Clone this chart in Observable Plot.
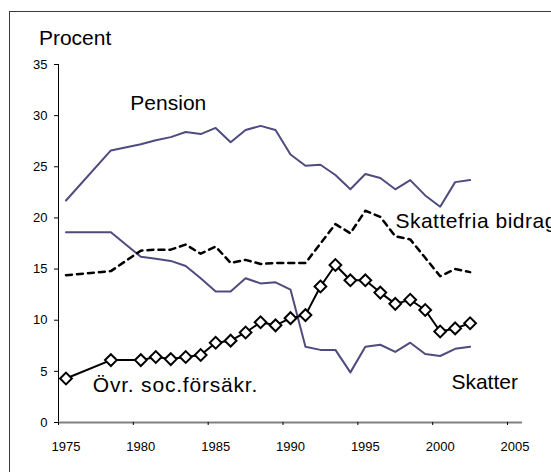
<!DOCTYPE html>
<html>
<head>
<meta charset="utf-8">
<script src="https://cdn.jsdelivr.net/npm/d3@7"></script>
<script src="https://cdn.jsdelivr.net/npm/@observablehq/plot@0.6"></script>
<style>
  html, body { margin: 0; padding: 0; background: #fff; overflow: hidden; }
  #wrap { position: relative; width: 551px; height: 472px; font-family: "Liberation Sans", Arial, sans-serif; }
  #border { position: absolute; left: 9px; top: 11px; width: 700px; height: 700px; border: 1px solid #3a3a3a; pointer-events: none; }
</style>
</head>
<body>
<div id="wrap"><div id="border"></div></div>
<script>
const years = [1975, 1978, 1980, 1981, 1982, 1983, 1984, 1985, 1986, 1987, 1988, 1989, 1990,
               1991, 1992, 1993, 1994, 1995, 1996, 1997, 1998, 1999, 2000, 2001, 2002];
const pension = [21.7, 26.6, 27.2, 27.6, 27.9, 28.4, 28.2, 28.8, 27.4, 28.6, 29.0, 28.6, 26.2,
                 25.1, 25.2, 24.2, 22.8, 24.3, 23.9, 22.8, 23.7, 22.2, 21.1, 23.5, 23.7];
const skattefria = [14.4, 14.8, 16.8, 16.9, 16.9, 17.4, 16.5, 17.2, 15.6, 15.9, 15.5, 15.6, 15.6,
                    15.6, 17.5, 19.4, 18.5, 20.7, 20.1, 18.2, 17.9, 16.1, 14.3, 15.0, 14.7];
const skatter = [18.6, 18.6, 16.2, 16.0, 15.8, 15.3, 14.1, 12.8, 12.8, 14.1, 13.6, 13.7, 13.0,
                 7.4, 7.1, 7.1, 4.9, 7.4, 7.6, 6.9, 7.8, 6.7, 6.5, 7.2, 7.4];
const ovrig = [4.3, 6.1, 6.1, 6.4, 6.2, 6.4, 6.6, 7.8, 8.0, 8.8, 9.8, 9.5, 10.2,
               10.5, 13.3, 15.4, 13.9, 13.9, 12.7, 11.6, 12.0, 11.0, 8.9, 9.2, 9.7];
const xTicks = [1975, 1980, 1985, 1990, 1995, 2000, 2005];
const yTicks = [0, 5, 10, 15, 20, 25, 30, 35];

const rows = (vals) => years.map((y, i) => ({year: y, value: vals[i]}));
const purple = "#4f4b7e";
const fx = d => d.year + 0.5;

const chart = Plot.plot({
  width: 551,
  height: 472,
  marginLeft: 58,
  marginRight: 29,
  marginTop: 64,
  marginBottom: 50,
  style: {fontFamily: "'Liberation Sans', Arial, sans-serif", background: "transparent", overflow: "visible"},
  x: {domain: [1975, 2006]},
  y: {domain: [0, 35]},
  marks: [
    Plot.axisY(yTicks, {tickSize: 4, tickPadding: 7, fontSize: 13, label: null, stroke: "#000", color: "#000"}),
    Plot.ruleX([1975], {y1: 0, y2: 35, stroke: "#000", strokeWidth: 1}),
    Plot.ruleY([0], {x1: 1975, x2: 2006, stroke: "#808080", strokeWidth: 2}),
    Plot.axisX(xTicks, {tickSize: 3, tickFormat: () => "", label: null, stroke: "#000"}),
    Plot.text(xTicks, {x: d => d + 0.5, y: 0, dy: 24, text: d => String(d), fontSize: 13, fill: "#000"}),
    Plot.line(rows(pension), {x: fx, y: "value", stroke: purple, strokeWidth: 2}),
    Plot.line(rows(skatter), {x: fx, y: "value", stroke: purple, strokeWidth: 2}),
    Plot.line(rows(skattefria), {x: fx, y: "value", stroke: "#000", strokeWidth: 2.5, strokeDasharray: "6,5"}),
    Plot.line(rows(ovrig), {x: fx, y: "value", stroke: "#000", strokeWidth: 2}),
    Plot.dot(rows(ovrig), {x: fx, y: "value", symbol: "diamond2", r: 5.3, stroke: "#000", strokeWidth: 2, fill: "#fff"}),
    Plot.text(["Procent"], {x: 1973.69, y: 37.6, text: d => d, textAnchor: "start", fontSize: 21, fill: "#000"}),
    Plot.text(["Pension"], {x: 1979.8, y: 31.18, text: d => d, textAnchor: "start", fontSize: 21, fill: "#000"}),
    Plot.text(["Skattefria bidrag"], {x: 1997.51, y: 19.68, text: d => d, textAnchor: "start", fontSize: 21, fill: "#000", className: "wide-a"}),
    Plot.text(["Skatter"], {x: 2001.25, y: 3.98, text: d => d, textAnchor: "start", fontSize: 21, fill: "#000"}),
    Plot.text(["Övr. soc.försäkr."], {x: 1977.29, y: 3.65, text: d => d, textAnchor: "start", fontSize: 21, fill: "#000", className: "wide-b"})
  ]
});
d3.select(chart).selectAll(".wide-a text").style("letter-spacing", "0.5px");
d3.select(chart).selectAll(".wide-b text").style("letter-spacing", "0.8px");
document.getElementById("wrap").prepend(chart);
</script>
</body>
</html>
